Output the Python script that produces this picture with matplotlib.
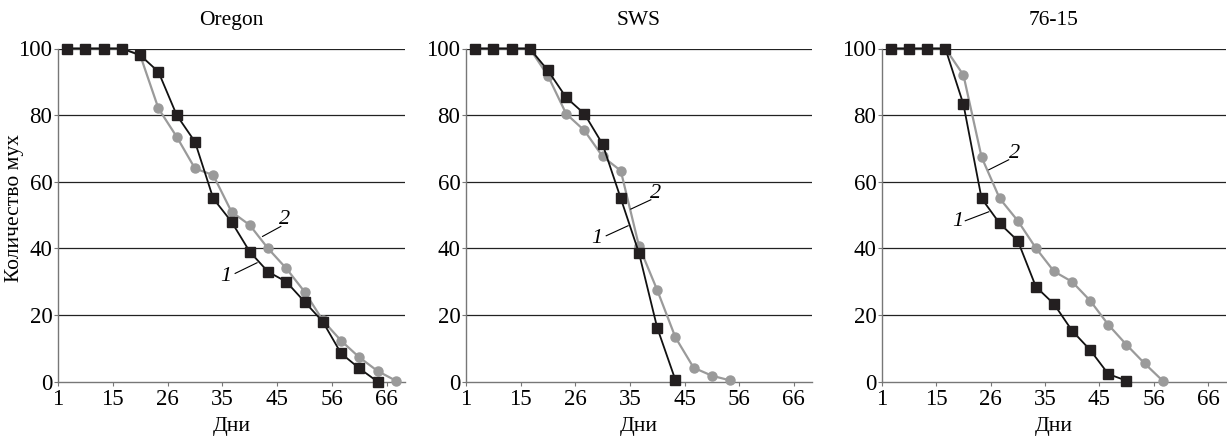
import matplotlib.pyplot as plt

plt.rcParams['font.family'] = ['Liberation Serif', 'DejaVu Serif']

# categories are evenly spaced observation points, labelled every third one
tick_labels = ['1', '15', '26', '35', '45', '56', '66']

oregon_1 = [100, 100, 100, 100, 98, 93, 80, 72, 55, 48, 39, 33, 30, 24, 18, 8.5, 4, 0]
oregon_2 = [100, 100, 100, 100, 98, 82, 73.5, 64, 62, 51, 47, 40, 34, 27, 18.4, 12.3, 7.3, 3.2, 0.3]

sws_1 = [100, 100, 100, 100, 93.4, 85.3, 80.4, 71.3, 55, 38.6, 16.2, 0.5]
sws_2 = [100, 100, 100, 100, 91.8, 80.4, 75.4, 67.6, 63.3, 40.7, 27.5, 13.3, 4.2, 1.8, 0.4]

l7615_1 = [100, 100, 100, 100, 83.2, 55, 47.5, 42.3, 28.5, 23.3, 15.3, 9.5, 2.3, 0.3]
l7615_2 = [100, 100, 100, 100, 92, 67.4, 55, 48.3, 40.1, 33.1, 30, 24.3, 17.1, 11.1, 5.5, 0.3]

titles = ['Oregon', 'SWS', '76-15']
series_1 = [oregon_1, sws_1, l7615_1]
series_2 = [oregon_2, sws_2, l7615_2]

# label positions (text xy, leader start, leader end) in category/value units
label_1 = [((9.2, 31.5), (9.7, 32.5), (10.9, 35.7)),
           ((7.2, 43.1), (7.7, 43.8), (8.9, 46.8)),
           ((4.2, 48.0), (4.6, 48.3), (5.9, 51.0))]
label_2 = [((12.4, 48.7), (12.2, 46.6), (11.2, 43.6)),
           ((10.4, 56.6), (10.15, 54.6), (9.05, 51.8)),
           ((7.3, 68.6), (7.0, 66.6), (5.9, 63.6))]

lefts = [58, 466, 882]
widths = [347, 346, 344]

fig = plt.figure(figsize=(12.27, 4.42), dpi=100)

for i in range(3):
    ax = fig.add_axes([lefts[i] / 1227, 1 - 381.7 / 442, widths[i] / 1227, 333.2 / 442])
    y1 = series_1[i]
    y2 = series_2[i]
    x1 = [k + 0.5 for k in range(len(y1))]
    x2 = [k + 0.5 for k in range(len(y2))]

    for v in [20, 40, 60, 80, 100]:
        ax.axhline(v, color='#222222', linewidth=0.9, zorder=1)

    ax.plot(x2, y2, color='#9a9a9a', linewidth=1.6, marker='o', markersize=6.5,
            markerfacecolor='#9a9a9a', markeredgecolor='#9a9a9a', zorder=3, clip_on=False)
    ax.plot(x1, y1, color='#111111', linewidth=1.3, marker='s', markersize=6.5,
            markerfacecolor='#231f20', markeredgecolor='#231f20', zorder=4, clip_on=False)

    (t1, a1, b1) = label_1[i]
    ax.plot([a1[0], b1[0]], [a1[1], b1[1]], color='black', linewidth=0.8, zorder=5)
    ax.text(t1[0], t1[1], '1', fontsize=16, style='italic', ha='center', va='center')
    (t2, a2, b2) = label_2[i]
    ax.plot([a2[0], b2[0]], [a2[1], b2[1]], color='black', linewidth=0.8, zorder=5)
    ax.text(t2[0], t2[1], '2', fontsize=16, style='italic', ha='center', va='center')

    ax.set_xlim(0, 19)
    ax.set_ylim(0, 100)
    ax.set_xticks(range(0, 19, 3))
    ax.set_xticklabels(tick_labels)
    ax.set_yticks([0, 20, 40, 60, 80, 100])
    ax.tick_params(axis='both', labelsize=16.5, length=3, width=0.8, color='#777777', pad=1)
    ax.tick_params(axis='x', pad=2)

    for s in ['top', 'right']:
        ax.spines[s].set_visible(False)
    for s in ['left', 'bottom']:
        ax.spines[s].set_color('#777777')
        ax.spines[s].set_linewidth(1.0)

    ax.set_title(titles[i], fontsize=15.5, pad=17)
    ax.set_xlabel('Дни', fontsize=15.5, labelpad=5)

fig.text(15 / 1227, 1 - 208 / 442, 'Количество мух', fontsize=15.5, rotation=90,
         ha='center', va='center')

fig.savefig('out.png', dpi=100)
